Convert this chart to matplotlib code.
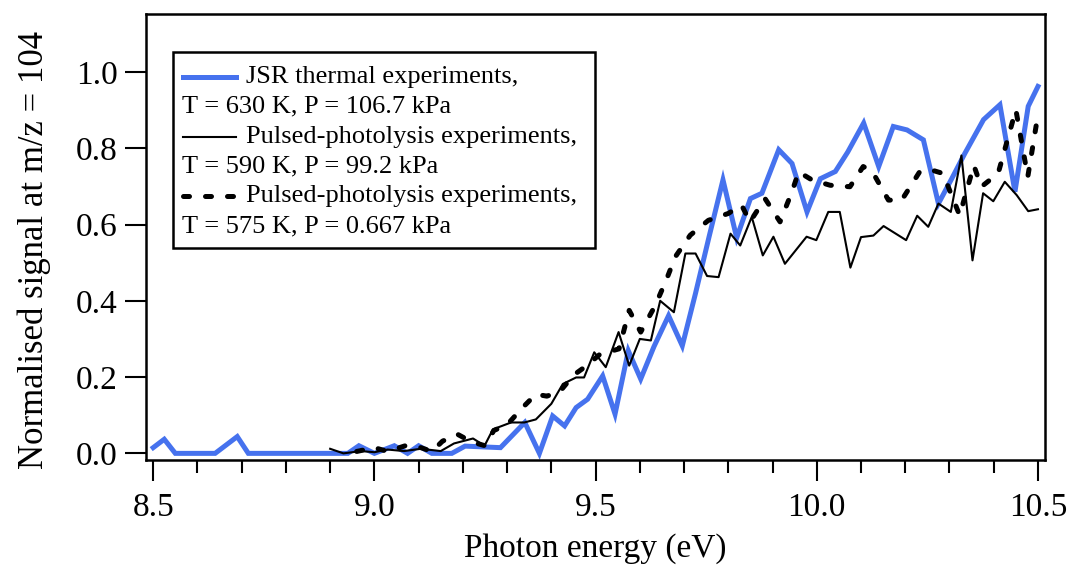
import matplotlib.pyplot as plt
from matplotlib.lines import Line2D
from matplotlib.patches import Rectangle
from matplotlib.ticker import MultipleLocator

# JSR thermal experiments (blue)
jsr_e = [8.50, 8.525, 8.55, 8.64, 8.69, 8.715, 8.80, 8.88, 8.94, 8.965,
         9.00, 9.045, 9.075, 9.10, 9.13, 9.175, 9.205, 9.285, 9.34, 9.373,
         9.403, 9.43, 9.456, 9.482, 9.516, 9.544, 9.574, 9.602, 9.632, 9.665,
         9.696, 9.726, 9.757, 9.788, 9.819, 9.85, 9.876, 9.914, 9.944, 9.978,
         10.008, 10.042, 10.07, 10.106, 10.14, 10.173, 10.204, 10.241, 10.275, 10.305,
         10.335, 10.377, 10.414, 10.448, 10.478, 10.50]
jsr_s = [0.015, 0.037, 0.0, 0.0, 0.044, 0.0, 0.0, 0.0, 0.0, 0.02,
         0.0, 0.02, 0.0, 0.02, 0.0, 0.0, 0.019, 0.015, 0.081, 0.0,
         0.098, 0.072, 0.12, 0.142, 0.203, 0.103, 0.269, 0.195, 0.28, 0.361,
         0.282, 0.42, 0.57, 0.717, 0.565, 0.668, 0.682, 0.796, 0.76, 0.633,
         0.72, 0.739, 0.79, 0.866, 0.752, 0.857, 0.848, 0.822, 0.655, 0.72,
         0.787, 0.875, 0.914, 0.686, 0.91, 0.962]

# Pulsed-photolysis, 590 K, 99.2 kPa (thin solid)
pp1_e = [8.90, 8.93, 8.97, 9.00, 9.03, 9.067, 9.105, 9.15, 9.18, 9.223,
         9.249, 9.268, 9.309, 9.339, 9.365, 9.40, 9.426, 9.456, 9.474, 9.497,
         9.523, 9.552, 9.576, 9.60, 9.625, 9.646, 9.677, 9.703, 9.726, 9.752,
         9.778, 9.805, 9.827, 9.853, 9.878, 9.902, 9.928, 9.977, 9.999, 10.026,
         10.052, 10.076, 10.10, 10.128, 10.151, 10.202, 10.227, 10.252, 10.275, 10.303,
         10.327, 10.352, 10.376, 10.399, 10.425, 10.452, 10.478, 10.50]
pp1_s = [0.012, 0.0, 0.006, 0.003, 0.01, 0.006, 0.012, 0.006, 0.026, 0.039,
         0.02, 0.063, 0.081, 0.081, 0.089, 0.13, 0.182, 0.199, 0.199, 0.265,
         0.226, 0.318, 0.23, 0.30, 0.296, 0.40, 0.37, 0.524, 0.524, 0.465,
         0.462, 0.576, 0.545, 0.62, 0.519, 0.568, 0.497, 0.568, 0.559, 0.633,
         0.633, 0.487, 0.567, 0.571, 0.596, 0.559, 0.623, 0.594, 0.655, 0.633,
         0.781, 0.506, 0.682, 0.661, 0.712, 0.677, 0.635, 0.64]

# Pulsed-photolysis, 575 K, 0.667 kPa (thick dashed)
pp2_e = [8.96, 9.00, 9.03, 9.07, 9.105, 9.13, 9.154, 9.188, 9.22, 9.25,
         9.27, 9.30, 9.335, 9.365, 9.39, 9.42, 9.45, 9.48, 9.51, 9.553,
         9.576, 9.602, 9.635, 9.661, 9.68, 9.714, 9.755, 9.80, 9.83, 9.849,
         9.883, 9.917, 9.944, 9.959, 9.989, 10.03, 10.075, 10.105, 10.125, 10.162,
         10.192, 10.233, 10.259, 10.285, 10.323, 10.355, 10.372, 10.41, 10.45, 10.477,
         10.50]
pp2_s = [0.005, 0.015, 0.005, 0.02, 0.015, 0.005, 0.032, 0.05, 0.03, 0.02,
         0.06, 0.075, 0.12, 0.155, 0.15, 0.163, 0.205, 0.23, 0.26, 0.274,
         0.375, 0.318, 0.388, 0.458, 0.515, 0.572, 0.611, 0.629, 0.651, 0.607,
         0.668, 0.607, 0.686, 0.738, 0.717, 0.703, 0.699, 0.752, 0.74, 0.664,
         0.664, 0.739, 0.743, 0.734, 0.624, 0.755, 0.699, 0.734, 0.901, 0.725,
         0.888]

legend_first = ["JSR thermal experiments,",
                "Pulsed-photolysis experiments,",
                "Pulsed-photolysis experiments,"]
legend_second = ["T = 630 K, P = 106.7 kPa",
                 "T = 590 K, P = 99.2 kPa",
                 "T = 575 K, P = 0.667 kPa"]

blue = "#4672ee"
dash = (0, (1.2, 3.2))
plt.rcParams["font.family"] = ["Liberation Serif", "DejaVu Serif"]

fig = plt.figure(figsize=(10.68, 5.68), dpi=100)
ax = fig.add_axes([0.1364, 0.190, 0.8421, 0.7854])

ax.plot(jsr_e, jsr_s, color=blue, lw=3.6, solid_joinstyle="miter")
ax.plot(pp1_e, pp1_s, color="black", lw=1.5)
ax.plot(pp2_e, pp2_s, color="black", lw=3.6, linestyle=dash,
        dash_capstyle="round")

ax.set_xlim(8.483, 10.516)
ax.set_ylim(-0.0176, 1.152)
ax.xaxis.set_major_locator(MultipleLocator(0.5))
ax.xaxis.set_minor_locator(MultipleLocator(0.1))
ax.xaxis.set_major_formatter(plt.FormatStrFormatter("%.1f"))
ax.yaxis.set_major_formatter(plt.FormatStrFormatter("%.1f"))
ax.set_yticks([0.0, 0.2, 0.4, 0.6, 0.8, 1.0])

ax.tick_params(axis="both", which="major", direction="out", length=15,
               width=1.5, labelsize=24)
ax.tick_params(axis="x", which="major", pad=8)
ax.tick_params(axis="y", which="major", pad=5)
ax.tick_params(axis="x", which="minor", direction="out", length=9, width=1.5)
for s in ax.spines.values():
    s.set_linewidth(1.8)

ax.set_xlabel("Photon energy (eV)", fontsize=24, labelpad=8)
ax.set_ylabel("Normalised signal at m/z = 104", fontsize=25, labelpad=18)
ax.yaxis.label.set_y(0.47)

# legend drawn by hand: second text line starts under the line sample
ax.add_patch(Rectangle((0.0304, 0.475), 0.4692, 0.44, transform=ax.transAxes,
                       facecolor="white", edgecolor="black", lw=1.8, zorder=5))
styles = [dict(color=blue, lw=3.6),
          dict(color="black", lw=1.5),
          dict(color="black", lw=3.6, linestyle=dash, dash_capstyle="round")]
row_y = [0.859, 0.792, 0.725, 0.658, 0.591, 0.524]
for i in range(3):
    y1 = row_y[2 * i]
    y2 = row_y[2 * i + 1]
    ax.add_line(Line2D([0.0415, 0.1004], [y1, y1], transform=ax.transAxes,
                       zorder=6, **styles[i]))
    ax.text(0.1116, y1, legend_first[i], transform=ax.transAxes, fontsize=19,
            va="center", ha="left", zorder=6)
    ax.text(0.0404, y2, legend_second[i], transform=ax.transAxes, fontsize=19,
            va="center", ha="left", zorder=6)

fig.savefig("out.png", dpi=100)
